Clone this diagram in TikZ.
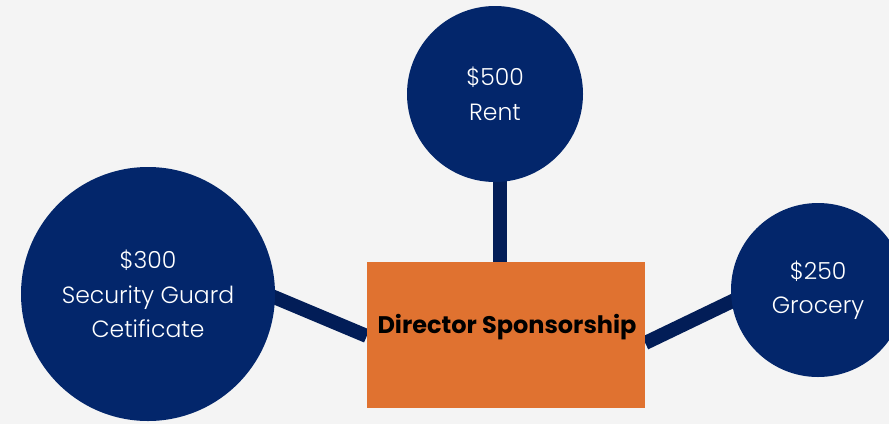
\documentclass[tikz,border=0pt]{standalone}
\usepackage{fontspec}
\setmainfont{Poppins}
\newfontfamily\lightfont{Poppins Light}
\definecolor{navy}{HTML}{03266B}
\definecolor{linknavy}{HTML}{021D57}
\definecolor{orng}{HTML}{E07230}
\definecolor{bg}{HTML}{F4F4F4}
\pgfdeclarelayer{back}
\pgfdeclarelayer{mid}
\pgfsetlayers{back,mid,main}
\begin{document}
\begin{tikzpicture}[x=1pt,y=-1pt,
  bubble/.style={circle,fill=navy,text=white,align=center,inner sep=0pt,font=\lightfont\fontsize{23.5}{34.5}\selectfont},
  link/.style={draw=linknavy,line width=14pt},
  hub/.style={fill=orng,inner sep=0pt,minimum width=278pt,minimum height=146pt},
  hubtext/.style={font=\bfseries\fontsize{24}{28}\selectfont,text=black}]
\begin{pgfonlayer}{back}
\fill[bg] (0,0) rectangle (889,424);
\end{pgfonlayer}
\useasboundingbox (0,0) rectangle (889,424);
\node[hub] (hub) at (506,335) {};
\node[hubtext] (hubtext) at (507,327) {Director Sponsorship};
\node[bubble,minimum size=176pt] (rent) at (495,94) {\$500\\Rent};
\node[bubble,minimum size=254pt] (guard) at (148,294) {\$300\\Security Guard\\Cetificate};
\node[bubble,minimum size=174pt] (groc) at (818,290) {\$250\\Grocery};
\coordinate (rentlow) at (500,170);
\coordinate (guardside) at (262,292);
\coordinate (grocside) at (745,295);
\begin{pgfonlayer}{mid}
\path[link] (rentlow) -- (rentlow |- hub.north);
\path[link] (guardside) -- (hub.west |- 0,336);
\path[link] (grocside) -- (hub.east |- 0,343);
\end{pgfonlayer}
\end{tikzpicture}
\end{document}
